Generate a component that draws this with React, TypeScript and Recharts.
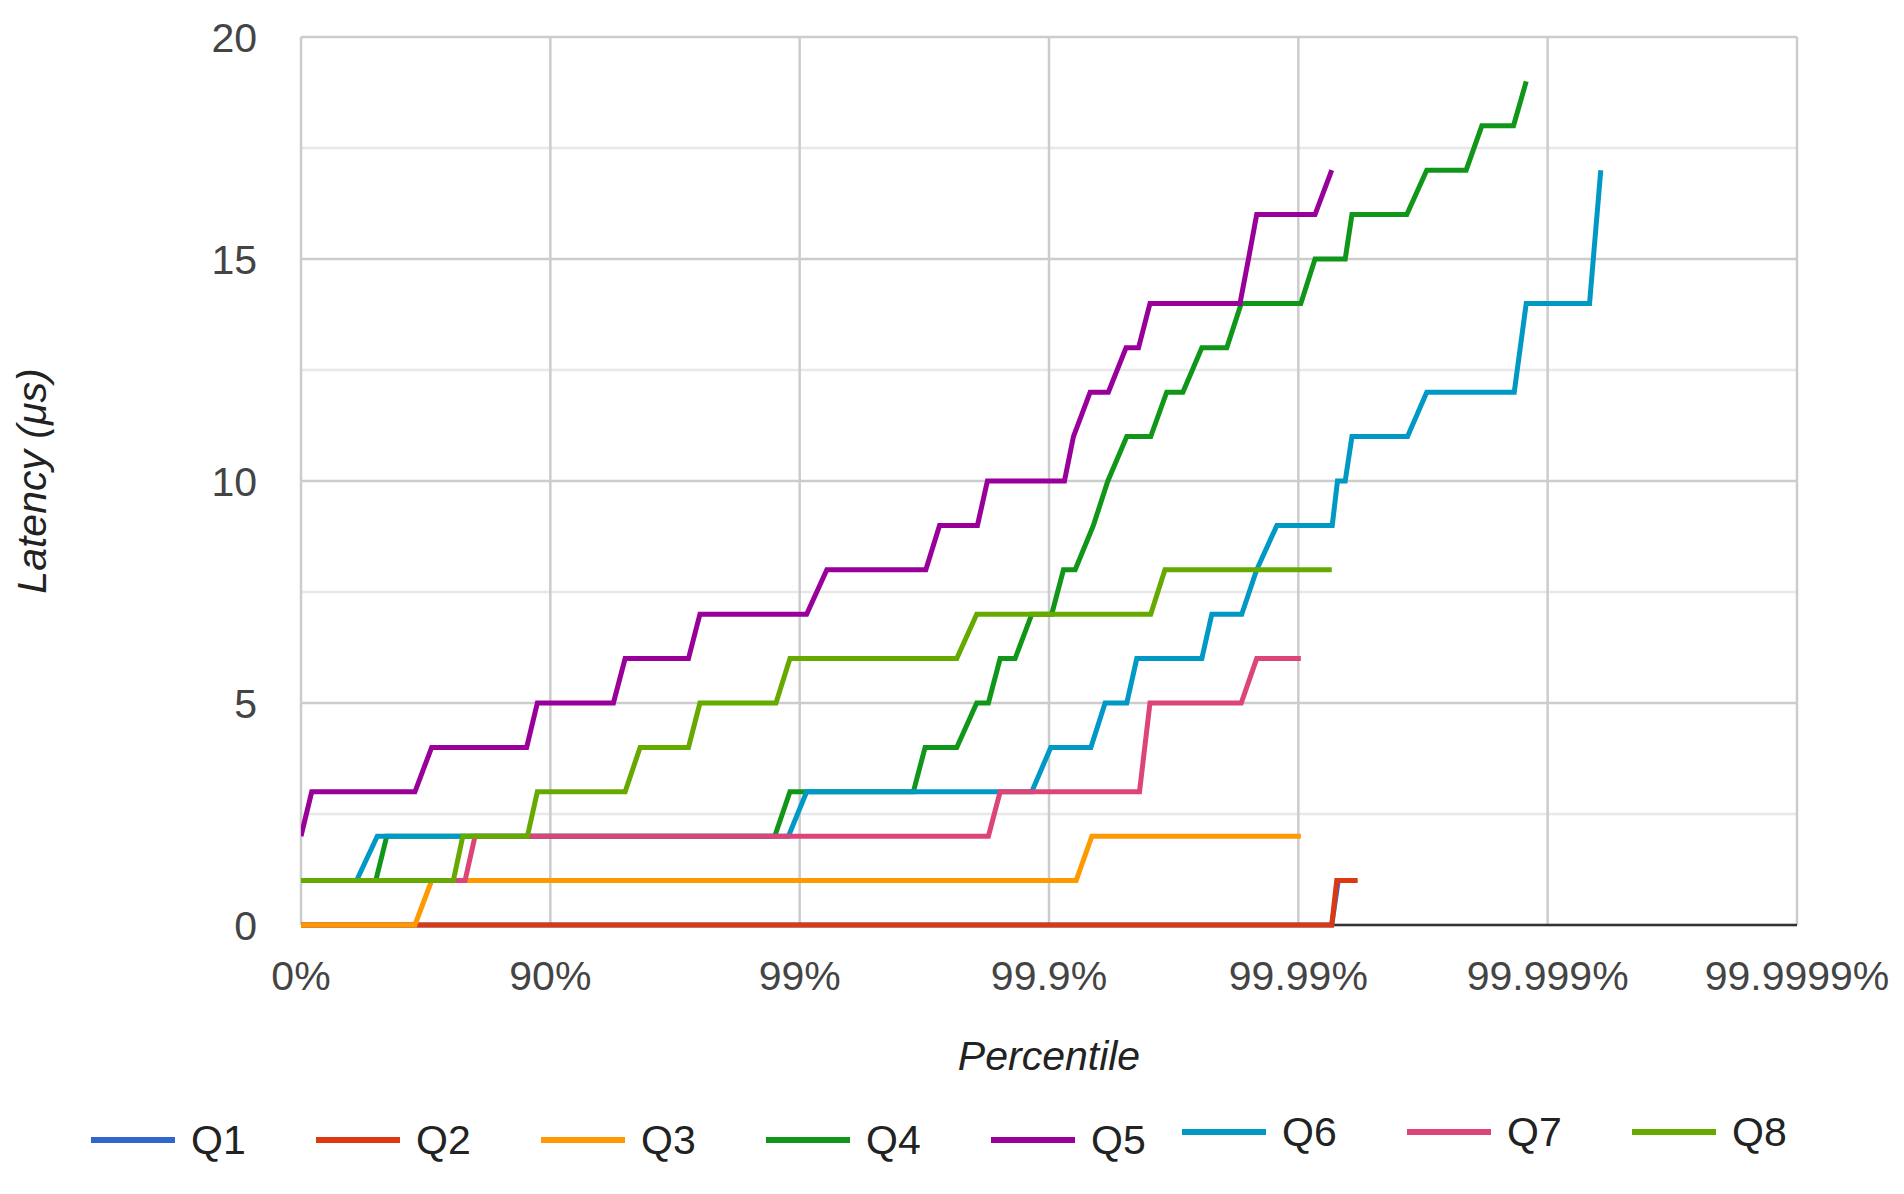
import React from "react";
import { LineChart, Line, XAxis, YAxis, CartesianGrid, Legend, Label } from "recharts";

type Pt = [number, number];

// x is counted in "nines": 0 -> 0%, 1 -> 90%, 2 -> 99%, ... 6 -> 99.9999%
const percentileTicks = [0, 1, 2, 3, 4, 5, 6];
const percentileLabels = ["0%", "90%", "99%", "99.9%", "99.99%", "99.999%", "99.9999%"];
const latencyTicks = [0, 5, 10, 15, 20];
const latencyMinorTicks = [2.5, 7.5, 12.5, 17.5];
const baseline = [0];

const q1: Pt[] = [[0, 0], [4.134, 0], [4.16, 1], [4.237, 1]];
const q2: Pt[] = [[0, 0], [4.134, 0], [4.154, 1], [4.237, 1]];
const q3: Pt[] = [[0, 0], [0.457, 0], [0.524, 1], [3.109, 1], [3.172, 2], [4.01, 2]];
const q4: Pt[] = [
  [0, 1], [0.3, 1], [0.344, 2], [1.9, 2], [1.961, 3], [2.456, 3], [2.503, 4], [2.63, 4],
  [2.71, 5], [2.757, 5], [2.804, 6], [2.864, 6], [2.931, 7], [3.011, 7], [3.058, 8], [3.105, 8],
  [3.178, 9], [3.236, 10], [3.312, 11], [3.408, 11], [3.472, 12], [3.537, 12], [3.613, 13],
  [3.713, 13], [3.771, 14], [4.01, 14], [4.067, 15], [4.188, 15], [4.215, 16], [4.435, 16],
  [4.515, 17], [4.673, 17], [4.736, 18], [4.863, 18], [4.914, 19],
];
const q5: Pt[] = [
  [0, 2], [0.043, 3], [0.457, 3], [0.524, 4], [0.905, 4], [0.948, 5], [1.253, 5], [1.3, 6],
  [1.554, 6], [1.6, 7], [2.028, 7], [2.109, 8], [2.506, 8], [2.561, 9], [2.713, 9], [2.753, 10],
  [3.062, 10], [3.098, 11], [3.165, 12], [3.238, 12], [3.309, 13], [3.359, 13], [3.405, 14],
  [3.766, 14], [3.8, 15], [3.833, 16], [4.067, 16], [4.134, 17],
];
const q6: Pt[] = [
  [0, 1], [0.223, 1], [0.306, 2], [1.955, 2], [2.028, 3], [2.931, 3], [3.007, 4], [3.168, 4],
  [3.225, 5], [3.312, 5], [3.352, 6], [3.613, 6], [3.653, 7], [3.773, 7], [3.833, 8], [3.914, 9],
  [4.136, 9], [4.157, 10], [4.188, 10], [4.215, 11], [4.438, 11], [4.515, 12], [4.866, 12],
  [4.914, 14], [5.168, 14], [5.213, 17],
];
const q7: Pt[] = [
  [0, 1], [0.658, 1], [0.698, 2], [2.757, 2], [2.804, 3], [3.363, 3], [3.405, 5], [3.771, 5],
  [3.833, 6], [4.01, 6],
];
const q8: Pt[] = [
  [0, 1], [0.611, 1], [0.649, 2], [0.908, 2], [0.948, 3], [1.3, 3], [1.36, 4], [1.554, 4],
  [1.6, 5], [1.905, 5], [1.961, 6], [2.63, 6], [2.71, 7], [3.408, 7], [3.465, 8], [4.134, 8],
];

const series = [
  { name: "Q1", color: "#3366cc", points: q1 },
  { name: "Q2", color: "#dc3912", points: q2 },
  { name: "Q3", color: "#ff9900", points: q3 },
  { name: "Q4", color: "#109618", points: q4 },
  { name: "Q5", color: "#990099", points: q5 },
  { name: "Q6", color: "#0099c6", points: q6 },
  { name: "Q7", color: "#dd4477", points: q7 },
  { name: "Q8", color: "#66aa00", points: q8 },
];

const font = "'Liberation Sans', Arial, sans-serif";

const XTitle = ({ viewBox }: any) => (
  <text
    x={viewBox.x + viewBox.width / 2}
    y={viewBox.y + 145}
    textAnchor="middle"
    fontFamily={font}
    fontSize={41}
    fontStyle="italic"
    fill="#222"
  >
    Percentile
  </text>
);

const YTitle = ({ viewBox }: any) => {
  const cx = viewBox.x - 55;
  const cy = viewBox.y + viewBox.height / 2;
  return (
    <text
      x={cx}
      y={cy}
      transform={`rotate(-90 ${cx} ${cy})`}
      textAnchor="middle"
      fontFamily={font}
      fontSize={41}
      fontStyle="italic"
      fill="#222"
    >
      Latency (μs)
    </text>
  );
};

// legend sits in two groups, the last three a little higher and shifted left
const renderLegend = ({ payload }: any) => {
  const items = payload || [];
  const item = (p: any) => (
    <div key={p.value} style={{ width: 225, display: "flex", alignItems: "center" }}>
      <span style={{ width: 84, height: 6, background: p.color, marginRight: 16 }} />
      <span style={{ fontSize: 41, color: "#222", lineHeight: "50px" }}>{p.value}</span>
    </div>
  );
  return (
    <div style={{ position: "relative", fontFamily: font }}>
      <div style={{ position: "absolute", left: 83, top: 1107, display: "flex" }}>
        {items.slice(0, 5).map(item)}
      </div>
      <div style={{ position: "absolute", left: 1174, top: 1099, display: "flex" }}>
        {items.slice(5).map(item)}
      </div>
    </div>
  );
};

export default function App() {
  return (
    <LineChart width={1896} height={1186} margin={{ top: 29, right: 107, bottom: 169, left: 93 }}>
      <CartesianGrid vertical={false} horizontalValues={latencyMinorTicks} stroke="#e8e8e8" strokeWidth={2.5} />
      <CartesianGrid stroke="#cccccc" strokeWidth={2.5} />
      {/* dark baseline drawn as a grid line so the series paint over it */}
      <CartesianGrid vertical={false} horizontalValues={baseline} stroke="#333" strokeWidth={2.5} />
      <XAxis
        type="number"
        dataKey="x"
        domain={[0, 6]}
        ticks={percentileTicks}
        interval={0}
        allowDataOverflow
        tickFormatter={(v: number) => percentileLabels[Math.round(v)]}
        tickLine={false}
        tickSize={0}
        tickMargin={36}
        axisLine={false}
        tick={{ fill: "#444", fontSize: 41, fontFamily: font }}
        height={100}
      >
        <Label content={XTitle} />
      </XAxis>
      <YAxis
        type="number"
        domain={[0, 20]}
        ticks={latencyTicks}
        interval={0}
        tickLine={false}
        tickSize={0}
        tickMargin={44}
        axisLine={false}
        tick={{ fill: "#444", fontSize: 41, fontFamily: font }}
        width={200}
      >
        <Label content={YTitle} />
      </YAxis>
      {series.map((s) => (
        <Line
          key={s.name}
          name={s.name}
          data={s.points.map(([x, y]) => ({ x, y }))}
          dataKey="y"
          type="linear"
          stroke={s.color}
          strokeWidth={5}
          dot={false}
          activeDot={false}
          isAnimationActive={false}
        />
      ))}
      <Legend
        layout="horizontal"
        verticalAlign="middle"
        align="center"
        content={renderLegend}
        wrapperStyle={{ left: 0, top: 0, width: 1896, height: 0 }}
      />
    </LineChart>
  );
}
